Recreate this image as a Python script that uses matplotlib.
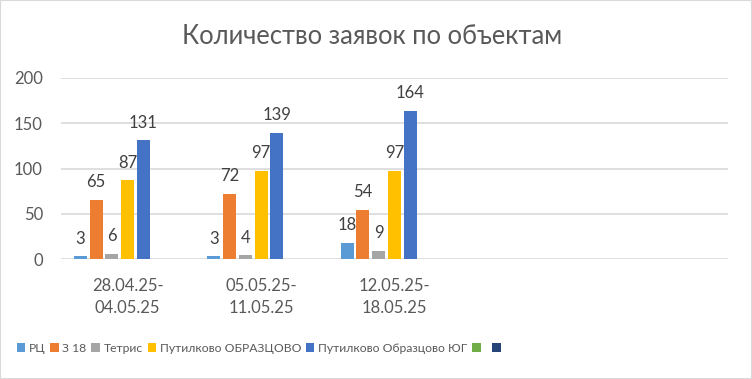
import matplotlib
matplotlib.use("Agg")
import matplotlib.pyplot as plt
from matplotlib.patches import Rectangle
import numpy as np

plt.rcParams['font.family'] = ['Lato', 'DejaVu Sans']

categories = ["28.04.25-\n04.05.25", "05.05.25-\n11.05.25", "12.05.25-\n18.05.25", "", ""]
series_names = ["РЦ", "З 18", "Тетрис", "Путилково ОБРАЗЦОВО", "Путилково Образцово ЮГ", " ", " "]
rc = [3, 3, 18, None, None]
z18 = [65, 72, 54, None, None]
tetris = [6, 4, 9, None, None]
obr = [87, 97, 97, None, None]
yug = [131, 139, 164, None, None]
empty1 = [None] * 5
empty2 = [None] * 5
series_values = [rc, z18, tetris, obr, yug, empty1, empty2]
colors = ["#5B9BD5", "#ED7D31", "#A5A5A5", "#FFC000", "#4472C4", "#70AD47", "#264478"]
yticks = [0, 50, 100, 150, 200]

fig = plt.figure(figsize=(7.52, 3.79), dpi=100)
fig.patches.append(Rectangle((0, 0), 1, 1, transform=fig.transFigure, fill=False,
                             edgecolor="#D9D9D9", linewidth=1.5))
ax = fig.add_axes([61/752, 120/379, 667/752, 181/379])

x = np.arange(len(categories))
n = len(series_names)
step = 0.1185
width = 0.097
text_color = "#595959"
for i, (name, vals, c) in enumerate(zip(series_names, series_values, colors)):
    offs = (i - (n - 1) / 2) * step
    xs = [xi + offs for xi, v in zip(x, vals) if v is not None]
    vs = [v for v in vals if v is not None]
    if vs:
        ax.bar(xs, vs, width=width, color=c, label=name, zorder=3)
        for xx, vv in zip(xs, vs):
            ax.annotate(str(vv), (xx, vv), xytext=(0, 7), textcoords="offset points",
                        ha="center", va="bottom", fontsize=12, color="#404040")
    else:
        ax.bar([0], [0], width=0, color=c, label=name)

ax.set_xlim(-0.5, len(categories) - 0.5)
ax.set_ylim(0, 200)
ax.set_yticks(yticks)
ax.set_xticks(x)
ax.set_xticklabels(categories, fontsize=12, color=text_color, linespacing=1.45)
ax.tick_params(axis='y', labelsize=12, labelcolor=text_color, length=0, pad=13)
ax.tick_params(axis='x', length=0, pad=14)
ax.grid(axis='y', color="#D9D9D9", linewidth=1.2, zorder=0)
for s in ax.spines.values():
    s.set_visible(False)

fig.text(372/752, 1 - 37/379, "Количество заявок по объектам", ha="center", va="center",
         fontsize=18.4, color=text_color)

handles, labels = ax.get_legend_handles_labels()
leg = fig.legend(handles, labels, loc="center", bbox_to_anchor=(262/752, 1 - 348/379),
                 ncol=7, frameon=False, prop={"family": ["Lato", "DejaVu Sans"], "size": 8.7},
                 handlelength=0.7, handleheight=0.7,
                 handletextpad=0.3, columnspacing=0.4, labelcolor=text_color)

fig.savefig("out.png", dpi=100)
